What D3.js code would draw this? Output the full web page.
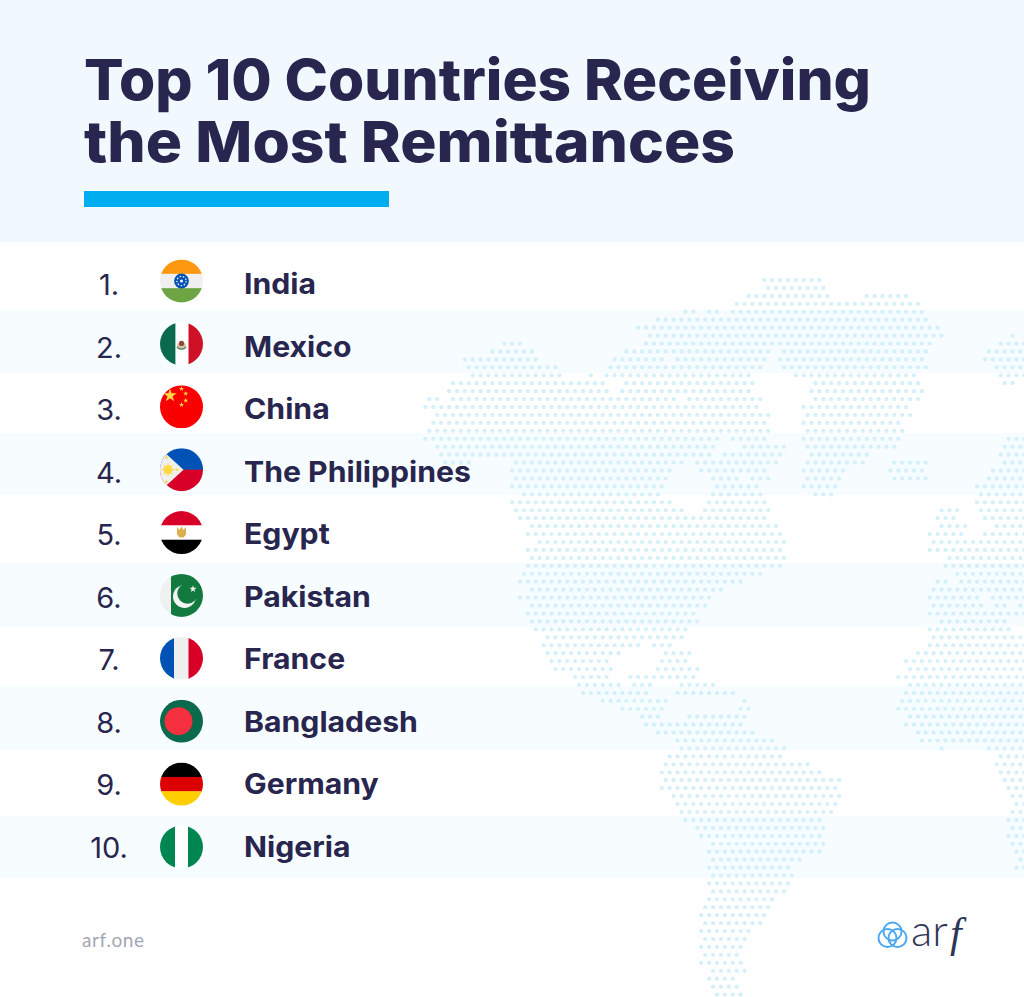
<!DOCTYPE html>
<html><head><meta charset="utf-8">
<script src="https://cdn.jsdelivr.net/npm/d3@7"></script>
<style>html,body{margin:0;padding:0;background:#fff;overflow:hidden}svg{display:block}</style>
</head><body><div id="c"></div>
<script>
const titleLines = ["Top 10 Countries Receiving", "the Most Remittances"];
const ranks = ["1.","2.","3.","4.","5.","6.","7.","8.","9.","10."];
const countries = ["India","Mexico","China","The Philippines","Egypt","Pakistan","France","Bangladesh","Germany","Nigeria"];
const footerText = "arf.one";
const logoLetters = "ar";
const logoItalic = "f";
// dotted world map: spans of occupied cells per grid row, in map units
const mapRowsNorth = [
[[890,1045]],[[900,1050]],[[850,1060],[1160,1265]],[[820,1300]],[[685,715],[745,780],[810,1310]],
[[615,1320]],[[565,1350]],[[595,975],[985,1360],[1535,1545]],[[215,265],[585,1330],[1505,1568]],[[185,295],[535,910],[940,1320],[1475,1568]],
[[112,305],[500,635],[665,900],[930,1310],[1465,1568]],[[122,355],[490,890],[940,1320],[1495,1568]],[[132,365],[440,450],[480,860],[975,1290],[1505,1568]],[[82,480],[530,870],[1025,1300],[1515,1550]],[[72,490],[520,860],[1015,1300]],
[[20,50],[82,660],[695,890],[1020,1300]],[[10,880],[995,1270]],[[40,910],[1005,1280]],[[30,900],[995,1250]],[[20,910],[1005,1260]],
[[10,775],[810,905],[995,1250],[1525,1568]],[[40,770],[840,950],[1005,1240],[1515,1568]],[[50,760],[790,940],[1000,1165],[1505,1568]],[[55,130],[245,685],[720,930],[1005,1155],[1230,1320],[1515,1568]],[[235,655],[725,900],[995,1105],[1220,1310],[1485,1568]],
[[245,645],[760,830],[850,910],[995,1095],[1230,1320],[1475,1568]],[[235,635],[770,880],[995,1085],[1445,1568]],[[265,625],[760,890],[1025,1075],[1445,1568]],[[235,655],[745,900],[1445,1568]],[[245,685],[740,910],[1350,1400],[1455,1568]],
[[255,900],[1340,1390],[1465,1568]],[[285,930],[1350,1420],[1495,1568]],[[275,940],[1320,1410],[1465,1568]],[[305,950],[1330,1568]],[[275,940],[1320,1568]],
[[285,950],[1370,1568]],[[275,940],[1360,1568]],[[265,890],[1390,1568]],[[255,840],[1340,1370],[1400,1568]],[[275,790],[1330,1568]],
[[255,760],[1320,1450],[1485,1568]],[[285,745],[1330,1460],[1495,1530],[1550,1568]],[[275,715],[1320,1568]]
];
const mapRowsSouth = [
[[95,595],[1320,1520]],[[105,560],[1285,1530]],[[140,550],[1295,1568]],[[128,420],[458,515],[1285,1568]],[[140,360],[492,575],[1250,1568]],
[[152,325],[480,563],[1215,1568]],[[163,337],[470,597],[1225,1568]],[[222,325],[387,585],[1190,1568]],[[235,360],[398,455],[540,645],[1225,1568]],[[247,445],[528,703],[1212,1568]],
[[305,503],[728,738],[1200,1568]],[[363,492],[717,750],[1190,1568]],[[422,480],[563,740],[1225,1568]],[[433,727],[1212,1568]],[[470,763],[1250,1568]],
[[528,822],[1260,1568]],[[540,858],[1317,1327],[1460,1568]],[[505,847],[1497,1568]],[[493,930],[1485,1568]],[[480,965],[1497,1568]],
[[492,1022],[1510,1568]],[[480,1012],[1520,1568]],[[517,1022],[1532,1568]],[[528,1012],[1545,1568]],[[540,998],[1532,1568]],
[[552,965],[1520,1568]],[[587,977],[1532,1568]],[[598,965],[1520,1568]],[[633,977],[1532,1568]],[[622,965],[1545,1568]],
[[633,905],[1557,1568]],[[622,870],[1545,1568]],[[633,882]],[[622,870]],[[633,858]],
[[622,822]],[[610,810]],[[598,798]],[[610,787]],[[598,750]],
[[610,740]],[[598,728]],[[610,715]],[[598,728]],[[633,738]],
[[622,703]],[[633,715]],[[645,727]]
];

const W=1024,H=997, ink="#28264e";
const svg=d3.select("#c").append("svg").attr("width",W).attr("height",H).attr("viewBox",`0 0 ${W} ${H}`);
svg.append("rect").attr("width",W).attr("height",H).attr("fill","#fff");
svg.append("rect").attr("width",W).attr("height",242).attr("fill","#f1f9fe");

// alternating row bands
[[310,373],[433,495],[563,627],[686,750],[816,878]].forEach(b=>
  svg.append("rect").attr("x",0).attr("y",b[0]).attr("width",W).attr("height",b[1]-b[0]).attr("fill","#f6fcff"));

// map
const rowY=d3.scaleLinear().domain([0,90]).range([280,994.6]);
const xNorth=d3.scaleLinear().domain([0,1568]).range([420,1024]);
const xSouth=d3.scaleLinear().domain([0,1568]).range([500,1024]);
const pitch=7.88, phase=531.8;
const dots=[];
function addRows(rows,start,x){
  rows.forEach((spans,r)=>{
    const i=start+r, off=(i%2===1)?0:pitch/2;
    spans.forEach(([a,b])=>{
      const p0=x(a)-1.5,p1=x(b)+1.5;
      for(let k=Math.ceil((p0-phase-off)/pitch);phase+off+k*pitch<=p1;k++)dots.push([phase+off+k*pitch,rowY(i)]);
    });
  });
}
addRows(mapRowsNorth,0,xNorth);
addRows(mapRowsSouth,mapRowsNorth.length,xSouth);
svg.append("g").attr("fill","#d4f0fb").selectAll("circle").data(dots).join("circle")
  .attr("cx",d=>d[0]).attr("cy",d=>d[1]).attr("r",2.1);

// title
const titleWidths=[787,651];
svg.append("g").selectAll("text").data(titleLines).join("text")
  .attr("x",84).attr("y",(d,i)=>[99.5,161.5][i]).text(d=>d)
  .attr("textLength",(d,i)=>titleWidths[i]).attr("lengthAdjust","spacingAndGlyphs")
  .attr("font-family","Inter").attr("font-weight",800).attr("font-size",57).attr("fill",ink);
svg.append("rect").attr("x",84).attr("y",191).attr("width",305).attr("height",16).attr("fill","#00aeef");

// rows
const baseY=d3.scaleLinear().domain([0,9]).range([294,857]);
svg.append("g").selectAll("text").data(ranks).join("text")
  .attr("x",109).attr("y",(d,i)=>baseY(i)+1).attr("text-anchor","middle").text(d=>d)
  .attr("font-family","Inter").attr("font-weight",400).attr("font-size",29).attr("fill",ink);
svg.append("g").attr("transform","translate(244,0) scale(1.06,1)").selectAll("text").data(countries).join("text")
  .attr("x",0).attr("y",(d,i)=>baseY(i)).text(d=>d)
  .attr("font-family","Inter").attr("font-weight",650).attr("font-size",28.5).attr("fill",ink);

// flags
const R=21.5, flagCx=181.5;
const flagY=d3.scaleLinear().domain([0,9]).range([281,847]);
const star=(g,x,y,s,c)=>g.append("path").attr("d",d3.symbol(d3.symbolStar,s)()).attr("transform",`translate(${x},${y})`).attr("fill",c);
const hb=(g,cols)=>{const h=2*R/cols.length;cols.forEach((c,i)=>g.append("rect").attr("x",-R).attr("y",-R+i*h).attr("width",2*R).attr("height",h+.3).attr("fill",c));};
const vb=(g,cols,stops)=>{cols.forEach((c,i)=>g.append("rect").attr("x",stops[i]).attr("y",-R).attr("width",stops[i+1]-stops[i]+.3).attr("height",2*R).attr("fill",c));};
const painters={
 "India":g=>{hb(g,["#ff9811","#f0f0f0","#6da544"]);
   g.append("circle").attr("r",7.4).attr("fill","#0052b4");
   g.append("circle").attr("r",4.6).attr("fill","none").attr("stroke","#f0f0f0").attr("stroke-width",1.2).attr("stroke-dasharray","1.6 1.6");
   g.append("circle").attr("r",1.6).attr("fill","#f0f0f0");},
 "Mexico":g=>{vb(g,["#0a6a4b","#ffffff","#ce1126"],[-R,-6,7,R]);
   g.append("ellipse").attr("cy",2).attr("rx",4.5).attr("ry",3.6).attr("fill","#d8c4a4");
   g.append("circle").attr("cy",-.5).attr("r",2.6).attr("fill","#8a4b38");
   g.append("path").attr("d","M-4.5 3 A5 4 0 0 0 4.5 3").attr("fill","none").attr("stroke","#4c8a5d").attr("stroke-width",1.2);},
 "China":g=>{g.append("rect").attr("x",-R).attr("y",-R).attr("width",2*R).attr("height",2*R).attr("fill","#fb0000");
   star(g,-11.5,-11.3,56,"#ffda44");[[0,-18],[4.2,-13.2],[4.2,-6.3],[0,-2]].forEach(p=>star(g,p[0],p[1],8,"#ffda44"));},
 "The Philippines":g=>{hb(g,["#0052b4","#d80027"]);
   g.append("path").attr("d",`M${-R} ${-R}L2 0L${-R} ${R}Z`).attr("fill","#f0f0f0");
   g.append("circle").attr("cx",-13.5).attr("r",4.6).attr("fill","#ffda44");
   for(let a=0;a<8;a++)g.append("line").attr("x1",-13.5).attr("x2",-13.5+7*Math.cos(a*Math.PI/4)).attr("y1",0).attr("y2",7*Math.sin(a*Math.PI/4)).attr("stroke","#ffda44").attr("stroke-width",1);
   [[-15,-12],[-15,12],[-4.5,0]].forEach(p=>star(g,p[0],p[1],6,"#ffda44"));},
 "Egypt":g=>{hb(g,["#d80027","#ffffff","#000000"]);
   g.append("path").attr("d","M-4.5 -5.5L-2 -2.5L0 -6L2 -2.5L4.5 -5.5L4.5 2L2 5L-2 5L-4.5 2Z").attr("fill","#dcb04e");},
 "Pakistan":g=>{vb(g,["#f0f0f0","#127a3e"],[-R,-10.5,R]);
   g.append("circle").attr("cx",3).attr("cy",1).attr("r",11.5).attr("fill","#f4f4f4");
   g.append("circle").attr("cx",6).attr("cy",-2).attr("r",10.2).attr("fill","#127a3e");
   star(g,11.5,-6.5,16,"#f4f4f4");},
 "France":g=>{vb(g,["#0052b4","#f0f0f0","#d80027"],[-R,-7.5,7,R]);},
 "Bangladesh":g=>{g.append("rect").attr("x",-R).attr("y",-R).attr("width",2*R).attr("height",2*R).attr("fill","#0a6a4b");
   g.append("circle").attr("cx",-3).attr("r",14).attr("fill","#f6303f");},
 "Germany":g=>{hb(g,["#000000","#dd0000","#ffce00"]);},
 "Nigeria":g=>{vb(g,["#008751","#ffffff","#008751"],[-R,-6.5,6.5,R]);}
};
const defs=svg.append("defs");
defs.append("clipPath").attr("id","fc").append("circle").attr("r",R);
countries.forEach((c,i)=>{
  const g=svg.append("g").attr("transform",`translate(${flagCx},${flagY(i)})`).append("g").attr("clip-path","url(#fc)");
  painters[c](g);
});

// footer
svg.append("text").attr("x",82).attr("y",947).text(footerText).attr("font-family","Lato").attr("font-size",19).attr("letter-spacing",.6).attr("fill","#a3a6b4");
const logo=svg.append("g").attr("fill","none").attr("stroke","#4aa8f5").attr("stroke-width",2);
[[892.5,931.5],[887.5,938],[897.5,938]].forEach(c=>logo.append("circle").attr("cx",c[0]).attr("cy",c[1]).attr("r",9));
svg.append("text").attr("x",911).attr("y",946).text(logoLetters).attr("font-family","Lato").attr("font-weight",300).attr("font-size",44).attr("fill","#2f3556");
svg.append("text").attr("x",950).attr("y",947).text(logoItalic).attr("font-family","Liberation Serif").attr("font-style","italic").attr("font-size",42).attr("fill","#2f3556");
</script></body></html>
